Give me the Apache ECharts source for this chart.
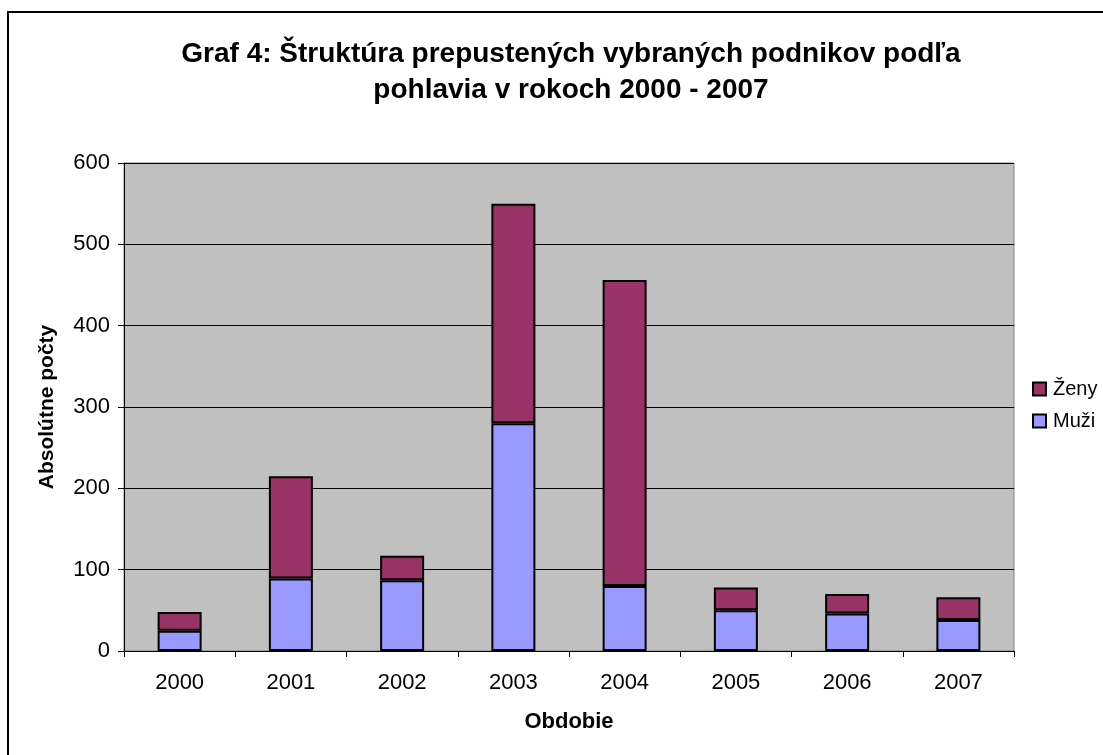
<!DOCTYPE html>
<html>
<head>
<meta charset="utf-8">
<script src="https://cdn.jsdelivr.net/npm/echarts@6/dist/echarts.min.js"></script>
<style>
    html, body { margin: 0; padding: 0; background: #fff; }
    #chart { width: 1103px; height: 755px; }
</style>
</head>
<body>
<div id="chart"></div>
<script>
// roky a hodnoty odčítané z grafu
var years = ["2000", "2001", "2002", "2003", "2004", "2005", "2006", "2007"];
var muzi = [25, 89, 87, 280, 80, 50, 46, 38];
var zeny = [23, 126, 30, 270, 376, 28, 24, 28];
var yTicks = [0, 100, 200, 300, 400, 500, 600];

var font = "'Liberation Sans', Arial, sans-serif";
var chart = echarts.init(document.getElementById("chart"));

var option = {
    backgroundColor: "#fff",
    animation: false,
    title: {
        text: "Graf 4: Štruktúra prepustených vybraných podnikov podľa\npohlavia v rokoch 2000 - 2007",
        left: 566,
        top: 31,
        textAlign: "center",
        textStyle: {
            fontFamily: font,
            fontSize: 28,
            fontWeight: "bold",
            color: "#000",
            lineHeight: 36
        }
    },
    legend: {
        orient: "vertical",
        left: 1027,
        top: 374,
        padding: 5,
        itemWidth: 13,
        itemHeight: 13,
        itemGap: 12,
        icon: "rect",
        data: ["Ženy", "Muži"],
        textStyle: { fontFamily: font, fontSize: 20, color: "#000", lineHeight: 20, padding: [0, 0, 0, 2] }
    },
    grid: {
        left: 124,
        top: 163,
        width: 890,
        height: 488,
        show: true,
        backgroundColor: "#C0C0C0",
        borderColor: "#808080",
        borderWidth: 1
    },
    xAxis: {
        type: "category",
        data: years,
        name: "Obdobie",
        nameLocation: "middle",
        nameGap: 60,
        nameTextStyle: { fontFamily: font, fontSize: 22, fontWeight: "bold", color: "#000" },
        axisLine: { lineStyle: { color: "#000", width: 1 } },
        axisTick: { show: true, length: 6, lineStyle: { color: "#000" } },
        axisLabel: { fontFamily: font, fontSize: 22, color: "#000", margin: 21 }
    },
    yAxis: {
        type: "value",
        min: yTicks[0],
        max: yTicks[yTicks.length - 1],
        interval: 100,
        name: "Absolútne počty",
        nameLocation: "middle",
        nameGap: 66,
        nameTextStyle: { fontFamily: font, fontSize: 21, fontWeight: "bold", color: "#000" },
        axisLine: { show: true, lineStyle: { color: "#000", width: 1 } },
        axisTick: { show: true, length: 6, lineStyle: { color: "#000" } },
        axisLabel: { fontFamily: font, fontSize: 22, color: "#000", margin: 14 },
        splitLine: { show: true, lineStyle: { color: "#000", width: 1 } }
    },
    series: [
        {
            name: "Muži",
            type: "bar",
            stack: "spolu",
            data: muzi,
            barWidth: 44,
            itemStyle: { color: "#9999FF", borderColor: "#000", borderWidth: 2 }
        },
        {
            name: "Ženy",
            type: "bar",
            stack: "spolu",
            data: zeny,
            barWidth: 44,
            itemStyle: { color: "#993366", borderColor: "#000", borderWidth: 2 }
        }
    ],
    graphic: [
        {
            type: "rect",
            shape: { x: 8, y: 12, width: 1110, height: 760 },
            style: { fill: "none", stroke: "#000", lineWidth: 2 },
            silent: true
        }
    ]
};

chart.setOption(option);
</script>
</body>
</html>
